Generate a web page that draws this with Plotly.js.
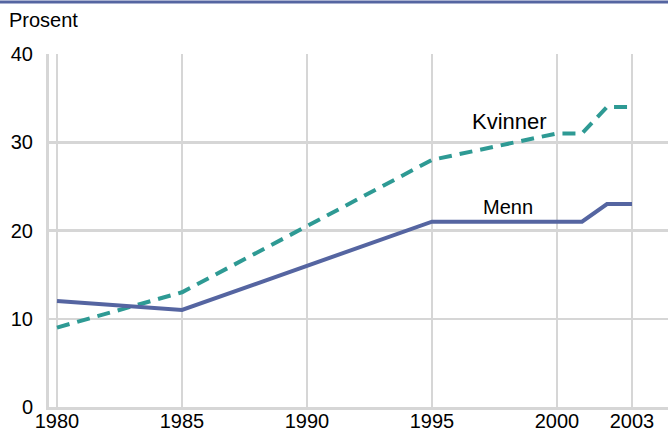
<!DOCTYPE html>
<html><head><meta charset="utf-8">
<script src="https://cdn.plot.ly/plotly-3.0.1.min.js"></script>
<style>body{margin:0;padding:0;background:#fff}#c{width:668px;height:434px}</style>
</head><body><div id="c"></div>
<script>
const years = [1980, 1985, 1995, 2000, 2001, 2002, 2003];
const menn = [12, 11, 21, 21, 21, 23, 23];
const kvinner = [9, 13, 28, 31, 31, 34, 34];
const xTicks = [1980, 1985, 1990, 1995, 2000, 2003];
const yTicks = [0, 10, 20, 30, 40];

const traces = [
  {x: years, y: kvinner, mode: 'lines', name: 'Kvinner', line: {color: '#2e9a94', width: 4, dash: '13px,8px'}},
  {x: years, y: menn, mode: 'lines', name: 'Menn', line: {color: '#5565a1', width: 4}}
];
const grid = '#d6d6d6';
const fam = 'Liberation Sans, Arial, sans-serif';
const layout = {
  width: 668, height: 434,
  margin: {l: 49, r: 0, t: 54, b: 27},
  paper_bgcolor: '#fff', plot_bgcolor: '#fff',
  showlegend: false,
  font: {family: fam, size: 20, color: '#000'},
  xaxis: {range: [1979.68, 2004.44], tickvals: xTicks, ticktext: xTicks.map(String),
    showgrid: true, gridcolor: grid, gridwidth: 2.5, zeroline: false,
    showline: true, linecolor: grid, linewidth: 3, ticks: '', ticklabelstandoff: -6,
    tickfont: {size: 20}, fixedrange: true},
  yaxis: {range: [0, 40], tickvals: yTicks, showgrid: true, gridcolor: grid, gridwidth: 2.5,
    zeroline: false, showline: true, linecolor: grid, linewidth: 3, ticks: '', ticklabelstandoff: 9,
    tickfont: {size: 20}, fixedrange: true},
  shapes: [{type: 'line', xref: 'paper', yref: 'paper', x0: -0.08, x1: 1, y0: 1.147, y1: 1.147,
    line: {color: '#5565a1', width: 3}}],
  annotations: [
    {xref: 'paper', yref: 'paper', x: -0.068, y: 1.096, xanchor: 'left', yanchor: 'middle',
      text: 'Prosent', showarrow: false, font: {size: 20}},
    {x: 1998.08, y: 32.4, text: 'Kvinner', showarrow: false, font: {size: 22}},
    {x: 1998.04, y: 22.66, text: 'Menn', showarrow: false, font: {size: 20}}
  ]
};
Plotly.newPlot('c', traces, layout, {displayModeBar: false, staticPlot: true});
</script></body></html>
